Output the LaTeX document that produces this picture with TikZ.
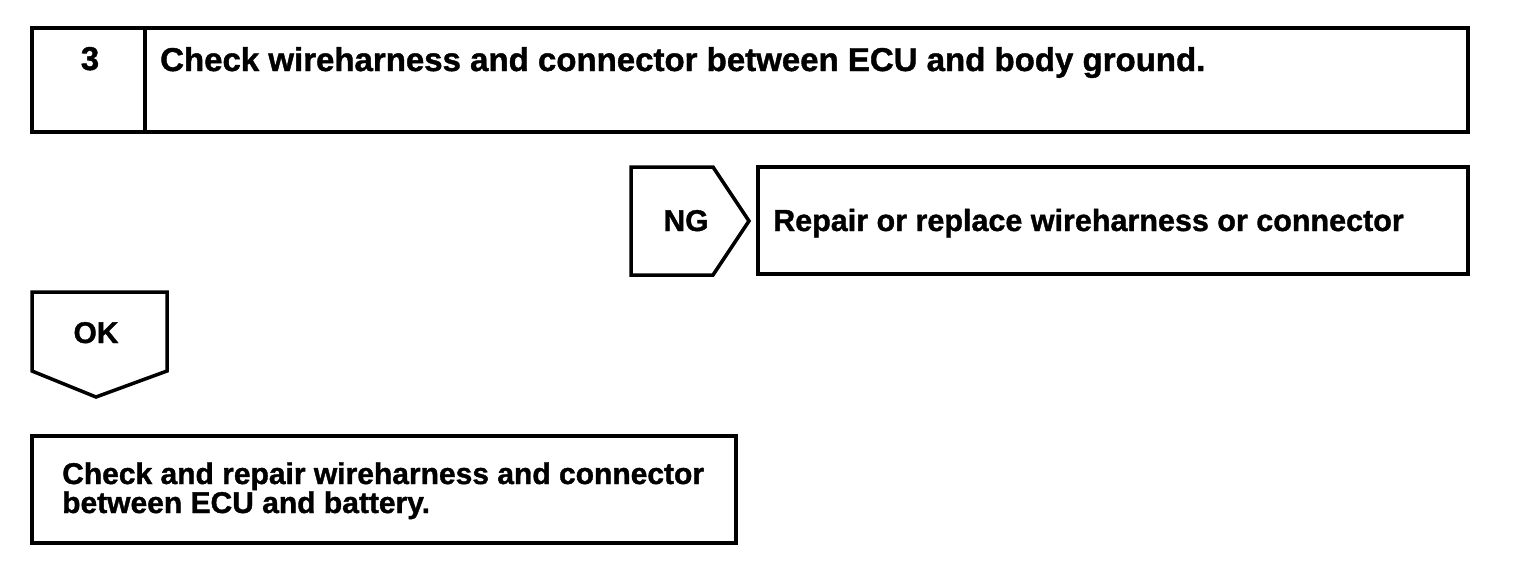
\documentclass[tikz,border=0pt]{standalone}
\usepackage{fontspec}
\setmainfont{Liberation Sans}[BoldFeatures={FakeBold=1.2}]
\begin{document}
\begin{tikzpicture}[x=1pt,y=-1pt,
  frame/.style={draw=black,line width=3.5pt,line join=miter},
  txt/.style={inner sep=0pt,font=\bfseries\fontsize{30}{29}\selectfont},
  reptxt/.style={inner sep=0pt,font=\bfseries\fontsize{30.5}{29}\selectfont},
  bigtxt/.style={inner sep=0pt,font=\bfseries\fontsize{33}{33}\selectfont}]
\useasboundingbox (0,0) rectangle (1520,568);
% step box
\draw[frame] (32,28) rectangle (1468,132);
\draw[frame] (145,28) -- (145,132);
\node[bigtxt,anchor=base] (num) at (90,70) {3};
\node[bigtxt,anchor=base west] (title) at (160,71) {Check wireharness and connector between ECU and body ground.};
% NG tag and result box
\draw[frame] (631,167) -- (713,167) -- (749,221) -- (713,275) -- (631,275) -- cycle;
\node[txt,anchor=base] (ng) at (686,231) {NG};
\draw[frame] (758,167) rectangle (1468,274);
\node[reptxt,anchor=base west] (repair) at (773,231) {Repair or replace wireharness or connector};
% OK tag
\draw[frame] (32,292) -- (167,292) -- (167,371) -- (96,397) -- (32,371) -- cycle;
\node[txt,anchor=base] (ok) at (96,343) {OK};
% bottom box
\draw[frame] (32,436) rectangle (736,543);
\node[txt,anchor=base west] (check) at (62,484) {Check and repair wireharness and connector};
\node[txt,anchor=base west] (check2) at (62,513) {between ECU and battery.};
\end{tikzpicture}
\end{document}
